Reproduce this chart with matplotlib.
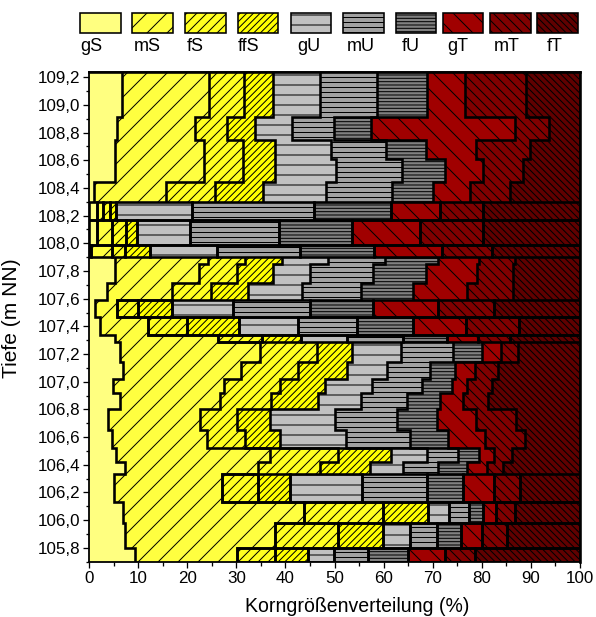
import matplotlib
matplotlib.use('Agg')
import matplotlib.pyplot as plt
import matplotlib.patches as mpatches
from matplotlib.ticker import MultipleLocator, FuncFormatter
import numpy as np

DPI = 60
P = 72 / DPI          # points per pixel
plt.rcParams['font.family'] = ['Liberation Sans', 'DejaVu Sans']
plt.rcParams['hatch.linewidth'] = 1.0 * P

# ---------------- data ----------------
classes = ['gS', 'mS', 'fS', 'ffS', 'gU', 'mU', 'fU', 'gT', 'mT', 'fT']

# sample boundaries (m NN), top to bottom
depth_edges = [109.24, 108.91, 108.75, 108.61, 108.44, 108.30, 108.17, 107.99,
               107.90, 107.85, 107.71, 107.59, 107.47, 107.34, 107.29, 107.14,
               107.02, 106.92, 106.80, 106.65, 106.52, 106.42, 106.33, 106.13,
               105.98, 105.80, 105.70]

# cumulative percentages (upper limit of each class), one value per sample
cum_gS = [6.7, 5.8, 5.2, 5.2, 1.0, 1.6, 1.7, 0.5, 5.3, 5.3, 3.6, 1.2, 2.2,
          5.3, 6.3, 7.0, 4.8, 6.3, 3.9, 4.6, 5.5, 7.3, 5.0, 7.0, 7.3, 9.4]
cum_mS = [24.5, 21.6, 23.4, 23.4, 15.7, 2.9, 4.6, 4.6, 24.2, 22.5, 17.0, 5.8,
          12.1, 26.2, 34.8, 31.0, 27.5, 26.7, 22.6, 24.0, 36.9, 34.5, 27.0,
          43.8, 37.9, 30.1]
cum_fS = [31.6, 28.2, 31.3, 31.3, 25.7, 4.2, 7.5, 7.3, 31.8, 30.1, 24.8, 10.0,
          19.9, 35.2, 46.5, 42.6, 38.9, 37.0, 30.1, 31.7, 50.8, 47.0, 34.5,
          59.9, 50.8, 37.9]
cum_ffS = [37.4, 33.9, 37.9, 37.9, 35.4, 5.4, 9.7, 12.4, 39.4, 37.5, 32.4,
           17.0, 30.5, 43.1, 53.5, 52.5, 48.0, 46.7, 36.9, 38.8, 61.6, 57.2,
           40.9, 69.1, 59.9, 44.7]
cum_gU = [47.0, 41.3, 49.3, 50.4, 48.2, 20.9, 20.6, 26.1, 48.6, 45.0, 43.3,
          29.4, 42.6, 52.5, 63.6, 60.6, 57.6, 55.4, 50.0, 52.3, 68.8, 64.0,
          55.5, 73.4, 65.4, 49.8]
cum_mU = [58.6, 49.8, 60.5, 63.7, 61.8, 45.8, 38.6, 43.0, 60.3, 57.9, 55.3,
          45.0, 54.5, 64.0, 74.2, 69.5, 67.8, 64.7, 62.7, 65.4, 75.2, 71.1,
          68.8, 77.3, 70.9, 56.9]
cum_fU = [68.8, 57.4, 68.6, 72.5, 70.1, 61.6, 53.6, 58.0, 71.1, 68.6, 65.9,
          57.8, 65.9, 72.9, 80.0, 74.6, 74.0, 71.5, 70.8, 73.2, 79.4, 76.9,
          76.1, 80.2, 75.7, 65.0]
cum_gT = [76.6, 86.7, 78.8, 80.3, 77.5, 71.5, 67.4, 71.8, 79.4, 79.0, 76.9,
          71.1, 76.8, 79.3, 83.9, 78.7, 77.0, 76.2, 78.8, 80.7, 82.4, 81.0,
          82.4, 82.8, 80.0, 72.5]
cum_mT = [89.0, 93.7, 89.8, 88.3, 85.7, 80.3, 80.3, 82.0, 86.8, 86.3, 86.3,
          82.5, 87.5, 85.7, 87.4, 83.2, 82.0, 81.3, 86.9, 88.8, 86.1, 84.4,
          87.8, 86.8, 85.1, 78.6]

# samples drawn as separate framed bars (index of first framed class)
box_from = [None, None, None, None, None, 0, 0, 0, None, None, None, 2, 2,
            2, None, None, None, None, None, None, None, None, 2, 2, 2, 2]

colors = ['#FFFF80', '#FFFF40', '#FFFF20', '#FFFF00', '#C0C0C0', '#A0A0A0',
          '#808080', '#A00000', '#800000', '#600000']
hatches = ['', '/', '//', '///', '-', '--', '---', '\\', '\\\\', '\\\\\\']

# ---------------- figure ----------------
W, H = 596, 617
fig = plt.figure(figsize=(W / DPI, H / DPI), dpi=DPI)
x0, x1, y0, y1 = 89, 580, 71.7, 561.7
ax = fig.add_axes([x0 / W, 1 - y1 / H, (x1 - x0) / W, (y1 - y0) / H])
ax.set_xlim(0, 100)
ax.set_ylim(depth_edges[-1], depth_edges[0])

n = len(depth_edges) - 1
cum = np.array([cum_gS, cum_mS, cum_fS, cum_ffS, cum_gU, cum_mU, cum_fU,
                cum_gT, cum_mT])
full = np.vstack([np.zeros(n), cum, np.full(n, 100.0)])
tops = np.array(depth_edges[:-1])
bots = np.array(depth_edges[1:])

LW = 2.6 * P
for k in range(10):
    L, R = full[k], full[k + 1]
    verts = []
    for i in range(n):
        verts += [(R[i], tops[i]), (R[i], bots[i])]
    for i in reversed(range(n)):
        verts += [(L[i], bots[i]), (L[i], tops[i])]
    ax.add_patch(mpatches.Polygon(verts, closed=True, facecolor=colors[k],
                                  edgecolor='black', linewidth=0,
                                  hatch=hatches[k], zorder=1))

# step outlines of continuous parts
for k in range(9):
    runs, cur = [], []
    for i in range(n):
        if box_from[i] is None or k < box_from[i]:
            cur.append(i)
        else:
            if cur:
                runs.append(cur)
            cur = []
    if cur:
        runs.append(cur)
    for r in runs:
        xs, ys = [], []
        for i in r:
            xs += [full[k + 1][i], full[k + 1][i]]
            ys += [tops[i], bots[i]]
        ax.plot(xs, ys, color='black', lw=LW, solid_joinstyle='miter',
                solid_capstyle='butt', zorder=3)

# framed samples
for i in range(n):
    if box_from[i] is None:
        continue
    for k in range(box_from[i], 10):
        ax.add_patch(mpatches.Rectangle((full[k][i], bots[i]),
                                        full[k + 1][i] - full[k][i],
                                        tops[i] - bots[i], fill=False,
                                        edgecolor='black', linewidth=LW,
                                        joinstyle='miter', zorder=3))

ax.plot([0, 100], [depth_edges[0]] * 2, color='black', lw=LW, zorder=4,
        clip_on=False)
ax.plot([100, 100], [depth_edges[0], depth_edges[-1]], color='black', lw=LW,
        zorder=4, clip_on=False)

ax.xaxis.set_major_locator(MultipleLocator(10))
ax.xaxis.set_minor_locator(MultipleLocator(5))
ax.yaxis.set_major_locator(MultipleLocator(0.2))
ax.yaxis.set_minor_locator(MultipleLocator(0.1))
ax.yaxis.set_major_formatter(FuncFormatter(lambda v, p: f'{v:.1f}'.replace('.', ',')))
ax.tick_params(which='major', direction='out', length=6 * P, width=1.3 * P,
               labelsize=17 * P, pad=3 * P)
ax.tick_params(which='minor', direction='out', length=3.5 * P, width=1.3 * P)
ax.tick_params(top=False, right=False)
for s in ax.spines.values():
    s.set_linewidth(1.8 * P)
    s.set_zorder(5)

fig.text(357 / W, 1 - 606 / H, 'Korngrößenverteilung (%)', ha='center',
         va='center', fontsize=19.5 * P)
fig.text(12 / W, 1 - 318 / H, 'Tiefe (m NN)', ha='center', va='center',
         rotation=90, fontsize=21 * P)

# legend row
lax = fig.add_axes([0, 0, 1, 1], zorder=-1)
lax.set_xlim(0, W)
lax.set_ylim(H, 0)
lax.axis('off')
box_left = [80, 132.3, 185, 237.7, 290.7, 343.3, 395.7, 442.7, 490, 537.3]
label_left = [80, 134, 187, 238, 297, 347, 402, 447, 494, 547]
for k in range(10):
    lax.add_patch(mpatches.Rectangle((box_left[k], 13.3), 40.5, 20,
                                     facecolor=colors[k], edgecolor='black',
                                     linewidth=1.6 * P, hatch=hatches[k]))
    lax.text(label_left[k], 51, classes[k], ha='left', va='baseline',
             fontsize=18 * P)

fig.savefig('out.png', dpi=DPI)
